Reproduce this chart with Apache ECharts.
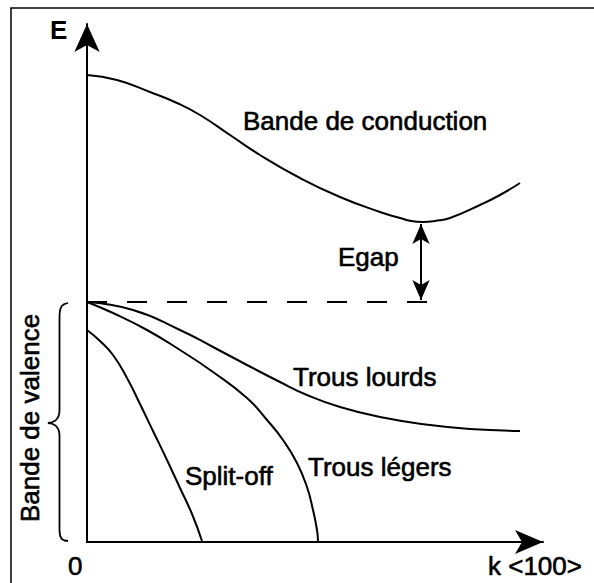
<!DOCTYPE html>
<html>
<head>
<meta charset="utf-8">
<script src="https://cdn.jsdelivr.net/npm/echarts@6/dist/echarts.min.js"></script>
<style>
  html, body { margin: 0; padding: 0; background: #fff; }
  #chart { width: 594px; height: 583px; }
</style>
</head>
<body>
<div id="chart"></div>
<script>
// k en unités arbitraires (0 = centre de zone), E en unités arbitraires (0 = haut de la bande de valence)
const conduction = [[0, 2.27], [0.30, 2.22], [0.63, 2.10], [0.90, 1.99], [1.13, 1.87], [1.43, 1.67], [1.73, 1.47],
  [2.13, 1.24], [2.53, 1.05], [2.93, 0.90], [3.13, 0.84], [3.24, 0.81], [3.36, 0.80], [3.48, 0.81], [3.63, 0.84],
  [3.93, 0.97], [4.13, 1.07], [4.33, 1.19]]
const trousLourds = [[0, 0], [0.46, -0.08], [0.93, -0.28], [1.26, -0.45], [1.60, -0.63], [1.93, -0.80], [2.20, -0.93],
  [2.53, -1.05], [2.93, -1.15], [3.43, -1.23], [3.83, -1.27], [4.33, -1.29]]
const trousLegers = [[0, 0], [0.26, -0.11], [0.60, -0.28], [0.93, -0.48], [1.26, -0.70], [1.60, -0.96], [1.80, -1.18],
  [1.96, -1.38], [2.10, -1.61], [2.20, -1.85], [2.26, -2.08], [2.30, -2.28], [2.31, -2.39]]
const splitOff = [[0, -0.28], [0.13, -0.39], [0.26, -0.53], [0.40, -0.76], [0.53, -1.02], [0.66, -1.29], [0.80, -1.58],
  [0.93, -1.86], [1.05, -2.12], [1.15, -2.39]]
const hautValence = [[0, 0], [3.40, 0]]
const egapK = 3.34
const egap = [0.02, 0.78]
// accolade "Bande de valence"
const accolade = [[0.68, -0.01], [0.645, -0.02], [0.617, -0.04], [0.602, -0.075], [0.596, -0.12], [0.595, -0.16],
  [0.595, -1.08], [0.592, -1.12], [0.58, -1.155], [0.555, -1.185], [0.52, -1.203], [0.48, -1.21],
  [0.52, -1.217], [0.555, -1.235], [0.58, -1.265], [0.592, -1.30], [0.595, -1.34],
  [0.595, -2.26], [0.596, -2.30], [0.602, -2.34], [0.617, -2.37], [0.645, -2.385], [0.68, -2.39]]

const textes = [
  { t: 'Bande de conduction', x: 243, y: 121 },
  { t: 'Egap', x: 338, y: 257 },
  { t: 'Trous lourds', x: 293, y: 377 },
  { t: 'Split-off', x: 185, y: 476 },
  { t: 'Trous légers', x: 308, y: 467 },
  { t: '0', x: 68, y: 566 },
  { t: 'k <100>', x: 488, y: 566 }
]

const police = '26px "Liberation Sans", Arial, sans-serif'

const chart = echarts.init(document.getElementById('chart'), null, { renderer: 'svg' })

const courbe = (name, data) => ({
  name: name,
  type: 'line',
  data: data,
  smooth: 0.5,
  symbol: 'none',
  lineStyle: { color: '#000', width: 2 },
  xAxisIndex: 0,
  yAxisIndex: 0,
  silent: true
})

const cache = { show: false }

const option = {
  animation: false,
  backgroundColor: '#fff',
  grid: [
    { left: 87, right: 51, top: 24, bottom: 41 },
    { left: 0, width: 87, top: 24, bottom: 41 }
  ],
  xAxis: [
    {
      type: 'value', min: 0, max: 4.56, gridIndex: 0,
      axisLine: { show: true, onZero: false, symbol: ['none', 'arrow'], symbolSize: [18, 28], lineStyle: { color: '#000', width: 2 } },
      axisTick: cache, axisLabel: cache, splitLine: cache
    },
    { type: 'value', min: 0, max: 0.87, gridIndex: 1, show: false }
  ],
  yAxis: [
    {
      type: 'value', min: -2.4, max: 2.78, gridIndex: 0,
      axisLine: { show: true, onZero: false, symbol: ['none', 'arrow'], symbolSize: [19, 28], lineStyle: { color: '#000', width: 2 } },
      axisTick: cache, axisLabel: cache, splitLine: cache
    },
    { type: 'value', min: -2.4, max: 2.78, gridIndex: 1, show: false }
  ],
  graphic: [
    {
      type: 'rect', silent: true, z: 100,
      shape: { x: 11, y: 8, width: 800, height: 800 },
      style: { fill: 'none', stroke: '#000', lineWidth: 1.5 }
    },
    {
      type: 'text', left: 50, top: 17, z: 100,
      style: { text: 'E', font: 'bold 26px "Liberation Sans", Arial, sans-serif', fill: '#000' }
    },
    {
      type: 'text', x: 30, y: 418, rotation: Math.PI / 2, z: 100,
      style: { text: 'Bande de valence', font: police, fill: '#000', stroke: '#000', lineWidth: 0.6, align: 'center', verticalAlign: 'middle' }
    }
  ].concat(textes.map(d => ({
    type: 'text', x: d.x, y: d.y, z: 100,
    style: { text: d.t, font: police, fill: '#000', stroke: '#000', lineWidth: 0.6, align: 'left', verticalAlign: 'middle' }
  }))),
  series: [
    courbe('Bande de conduction', conduction),
    courbe('Trous lourds', trousLourds),
    courbe('Trous légers', trousLegers),
    courbe('Split-off', splitOff),
    {
      name: 'Haut de la bande de valence',
      type: 'line',
      data: hautValence,
      symbol: 'none',
      silent: true,
      lineStyle: { color: '#000', width: 2, type: [20, 20] },
      markLine: {
        silent: true,
        symbol: ['arrow', 'arrow'],
        symbolSize: [13, 20],
        label: cache,
        lineStyle: { color: '#000', width: 2, type: 'solid' },
        data: [[{ coord: [egapK, egap[0]] }, { coord: [egapK, egap[1]] }]]
      }
    },
    {
      name: 'Accolade',
      type: 'line',
      data: accolade,
      xAxisIndex: 1,
      yAxisIndex: 1,
      symbol: 'none',
      silent: true,
      lineStyle: { color: '#000', width: 1.8 }
    }
  ]
}

chart.setOption(option)
</script>
</body>
</html>
